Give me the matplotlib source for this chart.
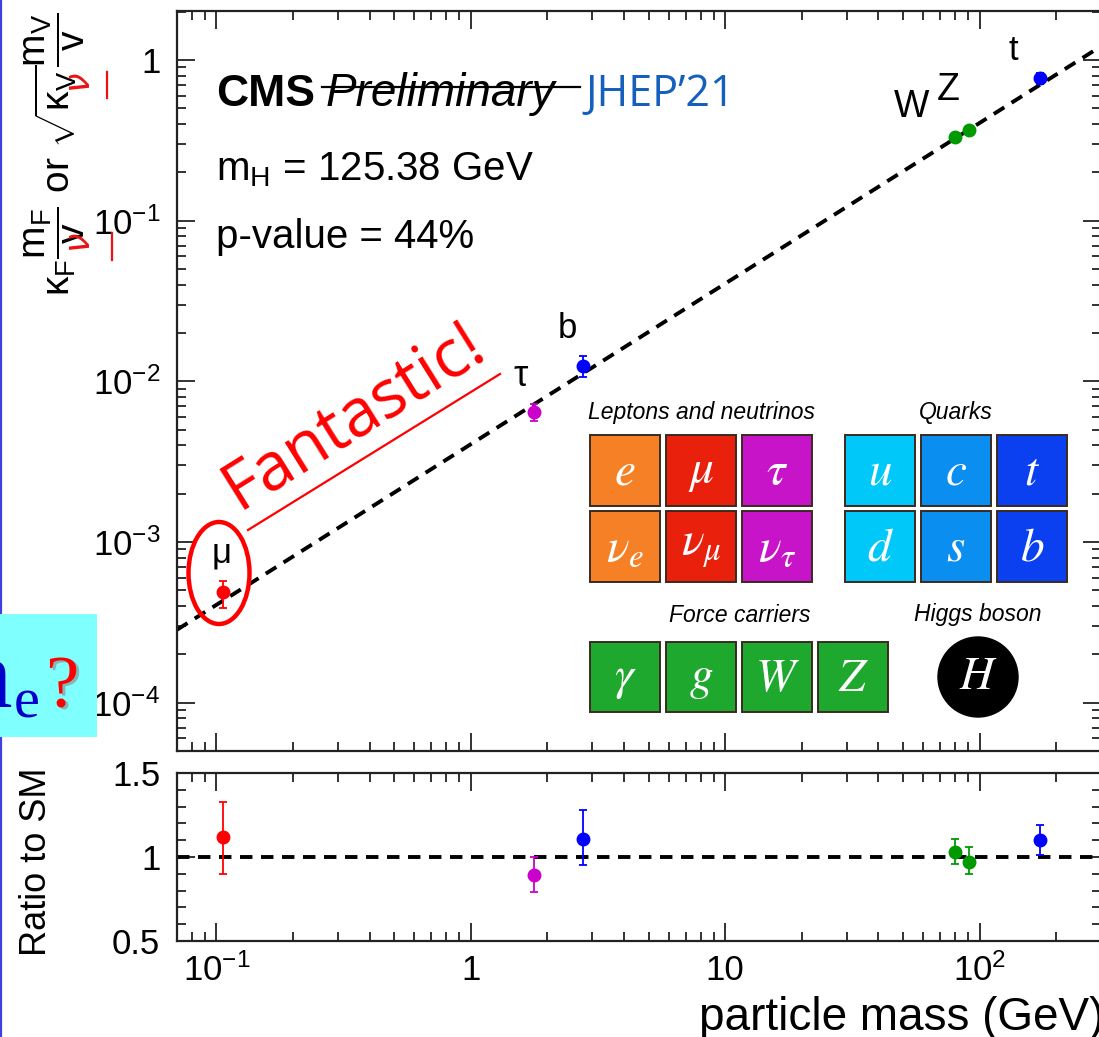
import matplotlib
matplotlib.use("Agg")
import matplotlib.pyplot as plt
import numpy as np
from matplotlib.patches import Rectangle, Ellipse
from matplotlib.lines import Line2D
from matplotlib.ticker import FixedLocator, MultipleLocator, LogLocator, NullFormatter

plt.rcParams['font.family'] = ['Liberation Sans', 'DejaVu Sans']
plt.rcParams['mathtext.fontset'] = 'custom'
plt.rcParams['mathtext.rm'] = 'Liberation Sans'
plt.rcParams['mathtext.it'] = 'Liberation Sans:italic'
plt.rcParams['mathtext.bf'] = 'Liberation Sans:bold'
plt.rcParams['mathtext.sf'] = 'Liberation Sans'

# ---------------- data ----------------
particles = ['mu', 'tau', 'b', 'W', 'Z', 't']
point_labels = ['\u03bc', '\u03c4', 'b', 'W', 'Z', 't']
masses = [0.1057, 1.777, 2.76, 80.38, 91.19, 172.5]
main_y = [4.85e-4, 6.45e-3, 1.24e-2, 0.332, 0.365, 0.77]
main_lo = [3.90e-4, 5.70e-3, 1.07e-2, 0.320, 0.351, 0.71]
main_hi = [5.70e-4, 7.20e-3, 1.43e-2, 0.343, 0.381, 0.83]
ratio = [1.12, 0.89, 1.11, 1.03, 0.97, 1.10]
ratio_lo = [0.90, 0.79, 0.95, 0.96, 0.90, 1.01]
ratio_hi = [1.33, 1.00, 1.28, 1.11, 1.06, 1.19]
colors = ['#ff0000', '#cc00cc', '#0000ff', '#009a00', '#009a00', '#0000ff']
vev = 246.22
x_range = [0.07, 300]

x_ticks = [0.1, 1, 10, 100]
x_ticklabels = [r'$10^{-1}$', '1', '10', r'$10^{2}$']
y_ticks = [1e-4, 1e-3, 1e-2, 1e-1, 1]
y_ticklabels = [r'$10^{-4}$', r'$10^{-3}$', r'$10^{-2}$', r'$10^{-1}$', '1']
r_ticks = [0.5, 1.0, 1.5]
r_ticklabels = ['0.5', '1', '1.5']

lepton_syms = [r'$e$', r'$\mu$', r'$\tau$', r'$\nu_e$', r'$\nu_\mu$', r'$\nu_\tau$']
lepton_cols = ['#f58025', '#e8200c', '#c814c8', '#f58025', '#e8200c', '#c814c8']
quark_syms = [r'$u$', r'$c$', r'$t$', r'$d$', r'$s$', r'$b$']
quark_cols = ['#00c8f8', '#0a8ef0', '#0a40f0', '#00c8f8', '#0a8ef0', '#0a40f0']
force_syms = [r'$\gamma$', r'$g$', r'$W$', r'$Z$']
force_col = '#1ea82e'

W, H = 1099, 1037
fig = plt.figure(figsize=(W / 100, H / 100), dpi=100)
fig.patch.set_facecolor('white')

def fx(x):
    return x / W

def fy(y):
    return 1 - y / H

def ax_rect(l, t, r, b):
    return [fx(l), fy(b), (r - l) / W, (b - t) / H]

ax = fig.add_axes(ax_rect(177, 11, 1101, 751))
axr = fig.add_axes(ax_rect(177, 773, 1101, 941))

# dashed SM lines
xs = np.array(x_range)
ax.plot(xs, xs / vev, color='black', lw=2.8, ls=(0, (3.2, 2.2)), zorder=2)
axr.plot(xs, [1, 1], color='black', lw=2.8, ls=(0, (3.2, 2.2)), zorder=2)

for i in range(len(masses)):
    ax.errorbar([masses[i]], [main_y[i]],
                yerr=[[main_y[i] - main_lo[i]], [main_hi[i] - main_y[i]]],
                fmt='o', color=colors[i], ms=9, elinewidth=1.3, capsize=3,
                capthick=1.3, zorder=3)
    axr.errorbar([masses[i]], [ratio[i]],
                 yerr=[[ratio[i] - ratio_lo[i]], [ratio_hi[i] - ratio[i]]],
                 fmt='o', color=colors[i], ms=9, elinewidth=1.3, capsize=3,
                 capthick=1.3, zorder=3)

for a in (ax, axr):
    a.set_xscale('log')
    a.set_xlim(x_range)
    for s in a.spines.values():
        s.set_linewidth(1.6)
        s.set_color('#222222')
    a.tick_params(which='both', direction='in', top=True, right=True,
                  color='#222222', width=1.3)
    a.tick_params(which='major', length=13, labelsize=25)
    a.tick_params(which='minor', length=6.5)
    a.xaxis.set_major_locator(FixedLocator(x_ticks))
    a.xaxis.set_minor_locator(LogLocator(base=10, subs=np.arange(2, 10)))
    a.xaxis.set_minor_formatter(NullFormatter())

ax.set_yscale('log')
ax.set_ylim(5e-5, 2.02)
ax.yaxis.set_major_locator(FixedLocator(y_ticks))
ax.yaxis.set_minor_locator(LogLocator(base=10, subs=np.arange(2, 10)))
ax.yaxis.set_minor_formatter(NullFormatter())
ax.set_yticklabels(y_ticklabels)
ax.set_xticklabels([])
ax.tick_params(axis='y', pad=12)

axr.set_ylim(0.5, 1.5)
axr.yaxis.set_major_locator(FixedLocator(r_ticks))
axr.yaxis.set_minor_locator(MultipleLocator(0.1))
axr.set_yticklabels(r_ticklabels)
axr.set_xticklabels(x_ticklabels)
axr.tick_params(axis='y', pad=12)
axr.tick_params(axis='x', pad=9)

# axis titles
fig.text(fx(1104), fy(1030), 'particle mass (GeV)', ha='right', va='baseline', fontsize=33)
fig.text(fx(37), fy(862), 'Ratio to SM', rotation=90, ha='center', va='center', fontsize=26)
fig.text(fx(55), fy(12),
         r'$\mathrm{\kappa_F}\dfrac{\mathrm{m_F}}{\mathrm{v}}$ or $\sqrt{\mathrm{\kappa_V}}\dfrac{\mathrm{m_V}}{\mathrm{v}}$',
         rotation=90, ha='center', va='top', fontsize=28)
# red handwritten marks on the y title
for (xp, yp) in [(80, 243), (80, 83)]:
    fig.text(fx(xp), fy(yp), r'$\nu$', rotation=90, ha='center', va='center',
             fontsize=25, color='#ee1111', fontweight='bold',
             math_fontfamily='dejavusans')
fig.add_artist(Line2D([fx(107), fx(107)], [fy(72), fy(98)], color='#ee1111', lw=1.6))
fig.add_artist(Line2D([fx(112), fx(112)], [fy(233), fy(260)], color='#ee1111', lw=1.6))

# CMS header texts
fig.text(fx(216), fy(106), 'CMS', fontweight='bold', fontsize=32, ha='left', va='baseline')
fig.text(fx(326), fy(106), 'Preliminary', fontstyle='italic', fontsize=33, ha='left', va='baseline')
fig.add_artist(Line2D([fx(322), fx(580)], [fy(87), fy(87)], color='black', lw=1.6))
fig.text(fx(585), fy(106), 'JHEP\u201921', family='Open Sans', fontsize=31, color='#1560bd',
         ha='left', va='baseline')
fig.text(fx(216), fy(180), r'm$_\mathrm{H}$ = 125.38 GeV', fontsize=29, ha='left', va='baseline')
fig.text(fx(216), fy(248), 'p-value = 44%', fontsize=29, ha='left', va='baseline')

# point labels
label_pos = [(222, 553), (521, 376), (567, 328), (912, 107), (948, 90), (1013, 50)]
label_size = [25, 26, 25, 27, 27, 25]
for lab, (xp, yp), sz in zip(point_labels, label_pos, label_size):
    fig.text(fx(xp), fy(yp), lab, ha='center', va='center', fontsize=sz)

# red annotations
fig.add_artist(Ellipse((fx(219), fy(573)), 61 / W, 102 / H, fill=False,
                       edgecolor='#ff0000', lw=3.2, transform=fig.transFigure))
fig.add_artist(Line2D([fx(248), fx(500)], [fy(530), fy(374)], color='#ff0000', lw=1.6))
fig.text(fx(354), fy(416), 'Fantastic!', family='Open Sans', fontsize=48, color='#ff0000',
         rotation=32, rotation_mode='anchor', ha='center', va='center')

# particle tiles
def tile(x0, y0, w, h, col, sym):
    fig.add_artist(Rectangle((fx(x0), fy(y0 + h)), w / W, h / H, facecolor=col,
                             edgecolor='#3a2a20', lw=1.4, transform=fig.transFigure))
    fig.text(fx(x0 + w / 2), fy(y0 + h / 2 + 2), sym, ha='center', va='center',
             fontsize=34, color='white', math_fontfamily='stix')

tw, th = 70, 71
lx = [590, 666, 742]
qx = [845, 921, 997]
rows = [435, 511]
for k in range(6):
    tile(lx[k % 3], rows[k // 3], tw, th, lepton_cols[k], lepton_syms[k])
    tile(qx[k % 3], rows[k // 3], tw, th, quark_cols[k], quark_syms[k])
fx_cols = [590, 666, 742, 818]
for k in range(4):
    tile(fx_cols[k], 642, tw, 70, force_col, force_syms[k])
fig.add_artist(Ellipse((fx(978), fy(677)), 80 / W, 80 / H, facecolor='black',
                       edgecolor='black', transform=fig.transFigure))
fig.text(fx(978), fy(677), r'$H$', ha='center', va='center', fontsize=34,
         color='white', math_fontfamily='stix')

hdr = dict(fontstyle='italic', fontsize=16.5, ha='center', va='center')
fig.text(fx(701), fy(413), 'Leptons and neutrinos', **hdr)
fig.text(fx(956), fy(413), 'Quarks', **hdr)
fig.text(fx(740), fy(615), 'Force carriers', **hdr)
fig.text(fx(978), fy(615), 'Higgs boson', **hdr)

# cyan box with m_e?
fig.add_artist(Rectangle((0, fy(737)), 97 / W, (737 - 614) / H, facecolor='#80ffff',
                         edgecolor='none', transform=fig.transFigure, zorder=5))
fig.text(fx(13), fy(707), 'm', family='Liberation Serif', fontsize=70, color='#0000cc',
         ha='right', va='baseline', zorder=6)
fig.text(fx(14), fy(717), 'e', family='Liberation Serif', fontsize=42, color='#0000cc',
         ha='left', va='baseline', zorder=6)
fig.text(fx(48), fy(709), '?', family='Liberation Serif', fontsize=54, color='#888888',
         ha='left', va='baseline', zorder=6, alpha=0.6)
fig.text(fx(45), fy(707), '?', family='Liberation Serif', fontsize=54, color='#ff0000',
         ha='left', va='baseline', zorder=6)

# blue left border
fig.add_artist(Line2D([fx(1.2), fx(1.2)], [0, 1], color='#4040e0', lw=1.6))

fig.savefig('out.png', dpi=100)
